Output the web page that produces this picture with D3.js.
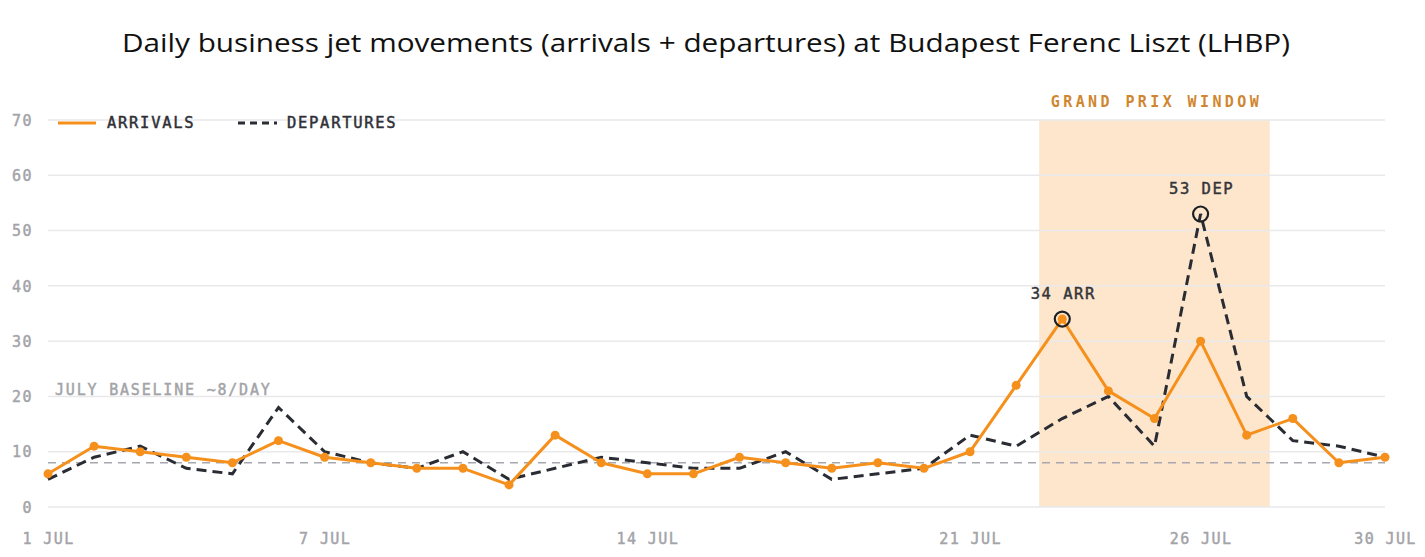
<!DOCTYPE html>
<html>
<head>
<meta charset="utf-8">
<script src="https://cdn.jsdelivr.net/npm/d3@7"></script>
<style>
  body { margin: 0; background: #fff; }
  svg { display: block; }
  .mono { font-family: "DejaVu Sans Mono", monospace; stroke-width: 0.45px; }
</style>
</head>
<body>
<svg id="chart" width="1425" height="557"></svg>
<script>
const days = d3.range(1, 31);
const arrivals = [6, 11, 10, 9, 8, 12, 9, 8, 7, 7, 4, 13, 8, 6, 6, 9, 8, 7, 8, 7, 10, 22, 34, 21, 16, 30, 13, 16, 8, 9];
const departures = [5, 9, 11, 7, 6, 18, 10, 8, 7, 10, 5, 7, 9, 8, 7, 7, 10, 5, 6, 7, 13, 11, 16, 20, 11, 53, 20, 12, 11, 9];
const xTicks = [1, 7, 14, 21, 26, 30];
const yTicks = [0, 10, 20, 30, 40, 50, 60, 70];
const baseline = 8;
const gpWindow = [22.5, 27.5];
const peaks = [
  { day: 23, value: 34, label: "34 ARR" },
  { day: 26, value: 53, label: "53 DEP" }
];

const MARGIN = { left: 48, right: 40, top: 120, bottom: 50 };
const W = 1425, H = 557;

const svg = d3.select("#chart");

const x = d3.scaleLinear().domain([1, 30]).range([MARGIN.left, W - MARGIN.right]);
const y = d3.scaleLinear().domain([0, 70]).range([H - MARGIN.bottom, MARGIN.top]);

// title
svg.append("text")
  .attr("x", 122)
  .attr("y", 52)
  .attr("textLength", 1168)
  .attr("lengthAdjust", "spacingAndGlyphs")
  .style("font-family", "'Open Sans', sans-serif")
  .style("font-size", "25.5px")
  .style("fill", "#111")
  .text("Daily business jet movements (arrivals + departures) at Budapest Ferenc Liszt  (LHBP)");

// grand prix window shading
svg.append("rect")
  .attr("x", x(gpWindow[0]))
  .attr("y", y(70))
  .attr("width", x(gpWindow[1]) - x(gpWindow[0]))
  .attr("height", y(0) - y(70))
  .attr("fill", "#fde6cb");

svg.append("text")
  .attr("class", "mono")
  .attr("x", (x(gpWindow[0]) + x(gpWindow[1])) / 2 + 2)
  .attr("y", 107)
  .attr("text-anchor", "middle")
  .style("font-size", "15px")
  .style("font-weight", "bold")
  .style("letter-spacing", "3.4px")
  .style("fill", "#d08630")
  .text("GRAND PRIX WINDOW");

// gridlines
svg.append("g")
  .selectAll("line")
  .data(yTicks)
  .enter()
  .append("line")
  .attr("x1", x(1))
  .attr("x2", x(30))
  .attr("y1", d => y(d))
  .attr("y2", d => y(d))
  .attr("stroke", "#e9e9ec")
  .attr("stroke-width", 1.5);

// y axis
const yAxis = svg.append("g")
  .attr("transform", `translate(${MARGIN.left - 15},0)`)
  .call(d3.axisLeft(y).tickValues(yTicks).tickSize(0).tickPadding(0));
yAxis.select(".domain").remove();
yAxis.selectAll("text")
  .attr("class", "mono")
  .attr("dy", "0.35em")
  .style("font-size", "15px")
  .style("letter-spacing", "1.5px")
  .style("fill", "#a3a3a8")
  .style("stroke", "#a3a3a8");

// x axis
const xAxis = svg.append("g")
  .attr("transform", `translate(0,${H - MARGIN.bottom})`)
  .call(d3.axisBottom(x).tickValues(xTicks).tickSize(0).tickPadding(26).tickFormat(d => d + " JUL"));
xAxis.select(".domain").remove();
xAxis.selectAll("text")
  .attr("class", "mono")
  .style("font-size", "15px")
  .style("letter-spacing", "1.4px")
  .style("fill", "#a3a3a8")
  .style("stroke", "#a3a3a8");

// baseline
svg.append("line")
  .attr("x1", x(1))
  .attr("x2", x(30))
  .attr("y1", y(baseline))
  .attr("y2", y(baseline))
  .attr("stroke", "#a6a8ae")
  .attr("stroke-width", 1.6)
  .attr("stroke-dasharray", "8,6");

svg.append("text")
  .attr("class", "mono")
  .attr("x", x(1) + 7)
  .attr("y", y(20) - 1)
  .style("font-size", "15px")
  .style("letter-spacing", "1.8px")
  .style("fill", "#a3a3a8")
  .style("stroke", "#a3a3a8")
  .text("JULY BASELINE ~8/DAY");

// lines
const line = d3.line()
  .x((d, i) => x(days[i]))
  .y(d => y(d));

svg.append("path")
  .datum(departures)
  .attr("d", line)
  .attr("fill", "none")
  .attr("stroke", "#2a2c33")
  .attr("stroke-width", 3)
  .attr("stroke-dasharray", "10,6");

svg.append("path")
  .datum(arrivals)
  .attr("d", line)
  .attr("fill", "none")
  .attr("stroke", "#f5901d")
  .attr("stroke-width", 3)
  .attr("stroke-linejoin", "round");

svg.append("g")
  .selectAll("circle")
  .data(arrivals)
  .enter()
  .append("circle")
  .attr("cx", (d, i) => x(days[i]))
  .attr("cy", d => y(d))
  .attr("r", 4.5)
  .attr("fill", "#f5901d");

// peak annotations
svg.append("g")
  .selectAll("circle")
  .data(peaks)
  .enter()
  .append("circle")
  .attr("cx", d => x(d.day))
  .attr("cy", d => y(d.value))
  .attr("r", 7.5)
  .attr("fill", "none")
  .attr("stroke", "#1e1f24")
  .attr("stroke-width", 2.2);

svg.append("g")
  .selectAll("text")
  .data(peaks)
  .enter()
  .append("text")
  .attr("class", "mono")
  .attr("x", d => x(d.day) + 1)
  .attr("y", d => y(d.value) - 20)
  .attr("text-anchor", "middle")
  .style("font-size", "15.5px")
  .style("letter-spacing", "1.5px")
  .style("fill", "#33353b")
  .style("stroke", "#33353b")
  .text(d => d.label);

// legend
const legend = svg.append("g").attr("transform", `translate(58,${y(70) + 3})`);
legend.append("line")
  .attr("x1", 0).attr("x2", 38)
  .attr("stroke", "#f5901d")
  .attr("stroke-width", 3);
legend.append("text")
  .attr("class", "mono")
  .attr("x", 49)
  .attr("dy", "0.35em")
  .style("font-size", "15.5px")
  .style("letter-spacing", "1.7px")
  .style("fill", "#2e3036")
  .style("stroke", "#2e3036")
  .text("ARRIVALS");
legend.append("line")
  .attr("x1", 180).attr("x2", 219)
  .attr("stroke", "#2a2c33")
  .attr("stroke-width", 3)
  .attr("stroke-dasharray", "7,5");
legend.append("text")
  .attr("class", "mono")
  .attr("x", 229)
  .attr("dy", "0.35em")
  .style("font-size", "15.5px")
  .style("letter-spacing", "1.7px")
  .style("fill", "#2e3036")
  .style("stroke", "#2e3036")
  .text("DEPARTURES");
</script>
</body>
</html>
